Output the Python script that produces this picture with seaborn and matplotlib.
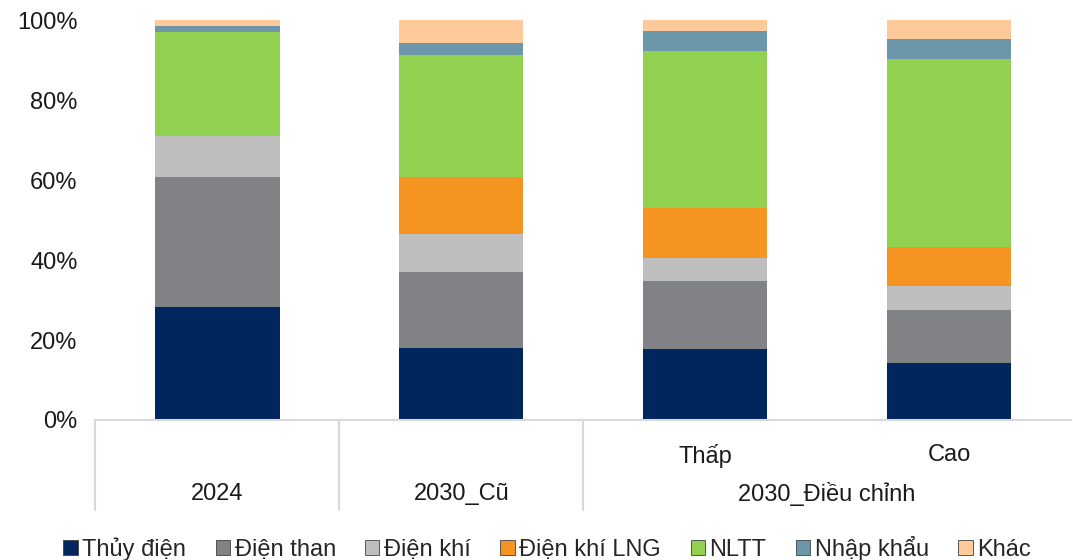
import matplotlib.pyplot as plt
import matplotlib.transforms as mtransforms
import numpy as np
import pandas as pd
import seaborn as sns
from matplotlib.patches import Patch

bars = ['2024', '2030_Cũ', 'Thấp', 'Cao']
tick_labels = ['', '', 'Thấp', 'Cao']
groups = ['2024', '2030_Cũ', '2030_Điều chỉnh']

sources = ['Thủy điện', 'Điện than', 'Điện khí', 'Điện khí LNG', 'NLTT', 'Nhập khẩu', 'Khác']
thuy_dien = [28.3, 18.1, 17.8, 14.3]
dien_than = [32.5, 19.0, 17.0, 13.2]
dien_khi = [10.2, 9.3, 5.8, 6.1]
dien_khi_lng = [0.0, 14.4, 12.3, 9.7]
nltt = [26.1, 30.4, 39.5, 47.0]
nhap_khau = [1.5, 3.2, 5.0, 5.0]
khac = [1.4, 5.6, 2.6, 4.7]

colors = ['#00265e', '#818286', '#bebebe', '#f59421', '#92d050', '#6c97aa', '#ffca99']

shares = np.array([thuy_dien, dien_than, dien_khi, dien_khi_lng, nltt, nhap_khau, khac])
cum = shares.cumsum(axis=0)
df = pd.DataFrame(cum.T, columns=sources)
df['bar'] = bars

sns.set_style('white')
plt.rcParams['font.family'] = ['Liberation Sans', 'DejaVu Sans']

fig = plt.figure(figsize=(10.73, 5.6), dpi=100)
ax = fig.add_axes([0.089, 0.25, 0.909, 0.714])

# stacked bars: draw cumulative totals from the top series down
for src, col in reversed(list(zip(sources, colors))):
    sns.barplot(data=df, x='bar', y=src, color=col, width=0.51,
                saturation=1, ax=ax, linewidth=0)

ax.set_ylim(0, 100)
ax.set_xlim(-0.5, 3.5)
ax.set_yticks(range(0, 101, 20))
ax.set_yticklabels([f'{v}%' for v in range(0, 101, 20)])
ax.set_xticks(range(4))
ax.set_xticklabels(tick_labels)
ax.set_xlabel('')
ax.set_ylabel('')
ax.tick_params(axis='both', length=0, labelsize=17, colors='#1a1a1a')
ax.tick_params(axis='x', pad=17)
ax.tick_params(axis='y', pad=13)
for s in ['top', 'right', 'left']:
    ax.spines[s].set_visible(False)
ax.spines['bottom'].set_color('#d9d9d9')
ax.spines['bottom'].set_linewidth(1.5)

trans = mtransforms.blended_transform_factory(ax.transData, ax.transAxes)
for xs in [-0.5, 0.5, 1.5]:
    ax.plot([xs, xs], [0, -0.225], color='#d9d9d9', lw=1.5,
            transform=trans, clip_on=False)
for xc, g in zip([0, 1, 2.5], groups):
    ax.text(xc, -0.185, g, transform=trans, ha='center', va='center',
            fontsize=17, color='#1a1a1a')

handles = [Patch(facecolor=c, edgecolor='#404040', linewidth=0.6) for c in colors]
fig.legend(handles, sources, loc='lower center', bbox_to_anchor=(0.51, -0.04),
           ncol=7, frameon=False, fontsize=17, handlelength=0.6,
           handleheight=0.6, handletextpad=0.2, columnspacing=1.25)

fig.savefig('out.png', dpi=100)
